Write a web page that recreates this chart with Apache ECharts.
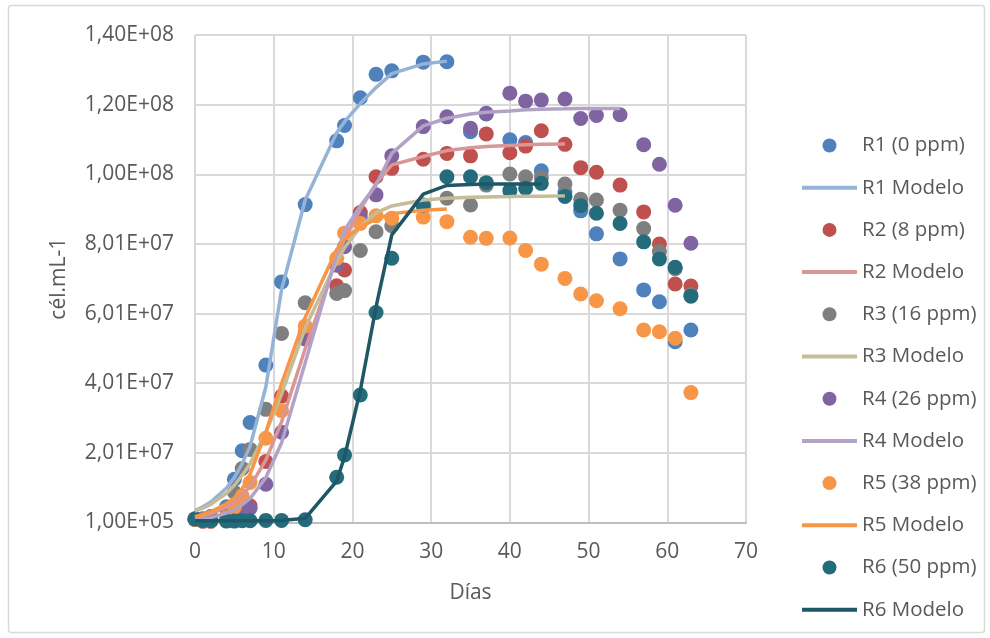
<!DOCTYPE html>
<html>
<head>
<meta charset="utf-8">
<title>Crecimiento celular</title>
<script src="https://cdn.jsdelivr.net/npm/echarts@6/dist/echarts.min.js"></script>
<style>
  html, body { margin: 0; padding: 0; background: #ffffff; }
  #chart { width: 990px; height: 638px; }
</style>
</head>
<body>
<div id="chart"></div>
<script>
// Sampling days (shared by all reactors)
const days = [0, 1, 2, 4, 5, 6, 7, 9, 11, 14, 18, 19, 21, 23, 25, 29, 32, 35, 37, 40, 42, 44, 47, 49, 51, 54, 57, 59, 61, 63];

// Measured cell density (cél/mL) per reactor
const r1 = [1.0e6, 1.2e6, 1.8e6, 4.6e6, 1.25e7, 2.07e7, 2.88e7, 4.53e7, 6.92e7, 9.14e7, 1.097e8, 1.141e8, 1.221e8, 1.288e8, 1.298e8, 1.323e8, 1.324e8, 1.123e8, 1.174e8, 1.10e8, 1.092e8, 1.011e8, 9.5e7, 8.96e7, 8.3e7, 7.58e7, 6.69e7, 6.35e7, 5.2e7, 5.54e7];
const r2 = [1.0e6, 5e5, 5e5, 1.2e6, 2.0e6, 3.0e6, 4.9e6, 1.76e7, 3.64e7, 5.45e7, 6.81e7, 7.26e7, 8.91e7, 9.94e7, 1.018e8, 1.044e8, 1.061e8, 1.054e8, 1.117e8, 1.063e8, 1.082e8, 1.126e8, 1.087e8, 1.02e8, 1.007e8, 9.7e7, 8.93e7, 8.01e7, 6.86e7, 6.8e7];
const r3 = [1.2e6, 1.0e6, 1.5e6, 4.0e6, 8.8e6, 1.56e7, 2.11e7, 3.26e7, 5.44e7, 6.32e7, 6.59e7, 6.67e7, 7.82e7, 8.36e7, 8.53e7, 9.1e7, 9.32e7, 9.13e7, 9.7e7, 1.002e8, 9.94e7, 9.92e7, 9.73e7, 9.29e7, 9.27e7, 8.98e7, 8.45e7, 7.79e7, 7.3e7, 6.55e7];
const r4 = [1.0e6, 5e5, 5e5, 1.0e6, 1.5e6, 2.5e6, 4.2e6, 1.11e7, 2.6e7, 5.28e7, 7.4e7, 7.93e7, 8.79e7, 9.42e7, 1.054e8, 1.138e8, 1.166e8, 1.133e8, 1.176e8, 1.234e8, 1.211e8, 1.214e8, 1.217e8, 1.161e8, 1.17e8, 1.172e8, 1.086e8, 1.03e8, 9.12e7, 8.03e7];
const r5 = [1.0e6, 5e5, 5e5, 1.5e6, 4.6e6, 7.7e6, 1.16e7, 2.43e7, 3.22e7, 5.65e7, 7.6e7, 8.32e7, 8.6e7, 8.82e7, 8.75e7, 8.78e7, 8.65e7, 8.2e7, 8.17e7, 8.18e7, 7.82e7, 7.43e7, 7.02e7, 6.57e7, 6.38e7, 6.15e7, 5.54e7, 5.49e7, 5.3e7, 3.74e7];
const r6 = [1.1e6, 6e5, 6e5, 5e5, 5e5, 6e5, 6e5, 7e5, 7e5, 9e5, 1.31e7, 1.95e7, 3.67e7, 6.04e7, 7.6e7, 9.13e7, 9.94e7, 9.94e7, 9.77e7, 9.54e7, 9.61e7, 9.75e7, 9.37e7, 9.11e7, 8.89e7, 8.6e7, 8.07e7, 7.58e7, 7.34e7, 6.51e7];

// Fitted growth model per reactor (evaluated on the first N sampling days)
const m1 = [3.5e6, 4.6e6, 6.0e6, 1.0e7, 1.3e7, 1.7e7, 2.2e7, 3.9e7, 6.7e7, 9.27e7, 1.12e8, 1.152e8, 1.204e8, 1.25e8, 1.29e8, 1.318e8, 1.326e8];
const m2 = [1.5e6, 2.0e6, 2.6e6, 4.5e6, 6.0e6, 8.0e6, 1.05e7, 1.8e7, 2.9e7, 5.0e7, 7.6e7, 8.15e7, 9.0e7, 9.75e7, 1.028e8, 1.052e8, 1.069e8, 1.077e8, 1.081e8, 1.084e8, 1.086e8, 1.087e8, 1.088e8];
const m3 = [3.4e6, 4.2e6, 5.3e6, 8.5e6, 1.08e7, 1.37e7, 1.7e7, 2.6e7, 3.7e7, 5.6e7, 7.5e7, 7.9e7, 8.5e7, 8.9e7, 9.1e7, 9.27e7, 9.32e7, 9.35e7, 9.36e7, 9.37e7, 9.38e7, 9.38e7, 9.39e7];
const m4 = [8e5, 1.1e6, 1.5e6, 2.8e6, 3.8e6, 5.2e6, 7.0e6, 1.3e7, 2.3e7, 4.6e7, 7.7e7, 8.4e7, 9.1e7, 9.7e7, 1.061e8, 1.14e8, 1.162e8, 1.174e8, 1.179e8, 1.183e8, 1.186e8, 1.188e8, 1.189e8, 1.19e8, 1.19e8, 1.19e8];
const m5 = [1.8e6, 2.4e6, 3.2e6, 5.5e6, 7.2e6, 9.8e6, 1.4e7, 2.6e7, 4.0e7, 5.9e7, 7.85e7, 8.15e7, 8.5e7, 8.72e7, 8.88e7, 8.98e7, 9.01e7];
const m6 = [6e5, 6e5, 6e5, 6e5, 6e5, 6e5, 6e5, 6e5, 7e5, 1.3e6, 1.2e7, 1.9e7, 3.8e7, 6.2e7, 8.27e7, 9.44e7, 9.69e7, 9.72e7, 9.73e7, 9.73e7, 9.73e7, 9.73e7];

// Axis ticks
const xTicks = { min: 0, max: 70, step: 10 };
const yTicks = { min: 1e5, max: 1.401e8, step: 2e7 };

const reactors = [
  { name: 'R1 (0 ppm)',  data: r1, model: m1, point: '#4F81BD', line: '#95B3D7' },
  { name: 'R2 (8 ppm)',  data: r2, model: m2, point: '#C0504D', line: '#D99694' },
  { name: 'R3 (16 ppm)', data: r3, model: m3, point: '#7F7F7F', line: '#C4BD97' },
  { name: 'R4 (26 ppm)', data: r4, model: m4, point: '#8064A2', line: '#B3A2C7' },
  { name: 'R5 (38 ppm)', data: r5, model: m5, point: '#F79646', line: '#F79646' },
  { name: 'R6 (50 ppm)', data: r6, model: m6, point: '#246B7B', line: '#1E5766' }
];

const pair = (vals) => vals.map((v, i) => [days[i], v]);

// Excel-style scientific notation with decimal comma: 1,00E+05
function sci(v) {
  const parts = Number(v).toExponential(2).split('e');
  const exp = parseInt(parts[1], 10);
  return parts[0].replace('.', ',') + 'E' + (exp < 0 ? '-' : '+') + String(Math.abs(exp)).padStart(2, '0');
}

const FONT = 'Open Sans';
const TEXT = '#595959';

const series = [];
const legendItems = [];
reactors.forEach((r) => {
  const modelName = r.name.split(' ')[0] + ' Modelo';
  series.push({
    name: r.name,
    type: 'scatter',
    data: pair(r.data),
    symbol: 'circle',
    symbolSize: 15,
    itemStyle: { color: r.point, opacity: 1 },
    emphasis: { disabled: true }
  });
  series.push({
    name: modelName,
    type: 'line',
    data: pair(r.model),
    symbol: 'none',
    smooth: false,
    lineStyle: { color: r.line, width: 3.5 },
    itemStyle: { color: r.line },
    emphasis: { disabled: true }
  });
  legendItems.push({ name: r.name });
  // model entries show only the line sample, no marker
  legendItems.push({ name: modelName, itemStyle: { opacity: 0 }, lineStyle: { width: 4 } });
});

const chart = echarts.init(document.getElementById('chart'), null, { renderer: 'canvas' });
chart.setOption({
  animation: false,
  backgroundColor: '#ffffff',
  textStyle: { fontFamily: FONT },
  graphic: [{
    type: 'rect',
    shape: { x: 8.5, y: 5.5, width: 976, height: 627, r: 3 },
    style: { fill: 'none', stroke: '#D9D9D9', lineWidth: 1.5 },
    silent: true,
    z: -10
  }],
  grid: { left: 195, right: 244, top: 35, bottom: 115.5, containLabel: false },
  legend: {
    orient: 'vertical',
    left: 795,
    top: 130,
    itemWidth: 55,
    itemHeight: 14,
    itemGap: 21.2,
    selectedMode: false,
    textStyle: { fontFamily: FONT, fontSize: 20.5, color: TEXT },
    data: legendItems
  },
  xAxis: {
    type: 'value',
    min: xTicks.min,
    max: xTicks.max,
    interval: xTicks.step,
    name: 'Días',
    nameLocation: 'middle',
    nameGap: 60,
    nameTextStyle: { fontFamily: FONT, fontSize: 21, color: TEXT },
    axisLine: { show: true, lineStyle: { color: '#BFBFBF', width: 2 } },
    axisTick: { show: false },
    axisLabel: { fontFamily: FONT, fontSize: 21, color: TEXT, margin: 19 },
    splitLine: { show: true, lineStyle: { color: '#D9D9D9', width: 2 } }
  },
  yAxis: {
    type: 'value',
    min: yTicks.min,
    max: yTicks.max,
    interval: yTicks.step,
    name: 'cél.mL-1',
    nameLocation: 'middle',
    nameGap: 125,
    nameTextStyle: { fontFamily: FONT, fontSize: 21, color: TEXT },
    axisLine: { show: false },
    axisTick: { show: false },
    axisLabel: { fontFamily: FONT, fontSize: 21, color: TEXT, margin: 21, formatter: sci },
    splitLine: { show: true, lineStyle: { color: '#D9D9D9', width: 2 } }
  },
  series: series
});
</script>
</body>
</html>
